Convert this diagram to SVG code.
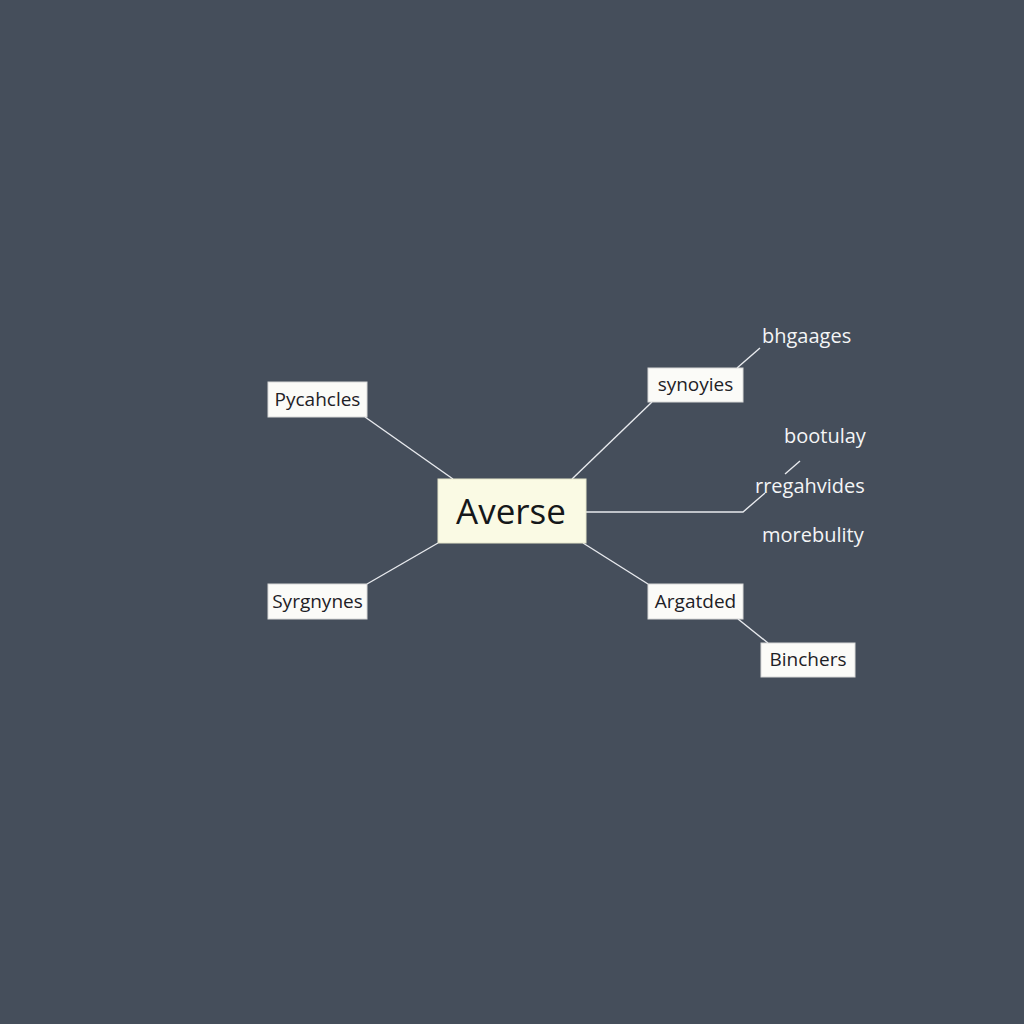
<svg xmlns="http://www.w3.org/2000/svg" width="1024" height="1024" viewBox="0 0 1024 1024">
<style>
.box{fill:#fbfbf8;stroke:#d8d8d8;stroke-width:1}
.lbl{font-family:"Open Sans","Noto Sans","Liberation Sans",sans-serif;font-size:19px;fill:#1e2126;text-anchor:middle}
.free{font-family:"Open Sans","Noto Sans","Liberation Sans",sans-serif;font-size:20px;fill:#f4f5f6}
.ln{stroke:#e8eaee;stroke-width:1.4;fill:none}
</style>
<rect width="1024" height="1024" fill="#454e5b"/>
<g id="connectors">
<line class="ln" x1="365" y1="417" x2="453" y2="479"/>
<line class="ln" x1="367" y1="584" x2="438" y2="543"/>
<line class="ln" x1="572" y1="479" x2="652" y2="402"/>
<line class="ln" x1="737" y1="368" x2="760" y2="348"/>
<polyline class="ln" points="586,512 743,512 765,493"/>
<line class="ln" x1="785" y1="474" x2="800" y2="461"/>
<line class="ln" x1="583" y1="543" x2="648" y2="584"/>
<line class="ln" x1="738" y1="619" x2="768" y2="643"/>
</g>
<g id="averse">
<rect x="438" y="479" width="148" height="64" fill="#fafae4" stroke="#e6e6cc"/>
<text x="511" y="524" font-family="'Open Sans','Noto Sans','Liberation Sans',sans-serif" font-size="35" fill="#15171a" text-anchor="middle">Averse</text>
</g>
<g id="pycahcles">
<rect class="box" x="268" y="382" width="99" height="35"/>
<text class="lbl" x="317.500" y="406">Pycahcles</text>
</g>
<g id="syrgnynes">
<rect class="box" x="268" y="584" width="99" height="35"/>
<text class="lbl" x="317.500" y="608">Syrgnynes</text>
</g>
<g id="synoyies">
<rect class="box" x="648" y="368" width="95" height="34"/>
<text class="lbl" x="695.500" y="391">synoyies</text>
</g>
<g id="argatded">
<rect class="box" x="648" y="584" width="95" height="35"/>
<text class="lbl" x="695.500" y="608">Argatded</text>
</g>
<g id="binchers">
<rect class="box" x="761" y="643" width="94" height="34"/>
<text class="lbl" x="808" y="666">Binchers</text>
</g>
<g id="bhgaages"><text class="free" x="762" y="343">bhgaages</text></g>
<g id="bootulay"><text class="free" x="784" y="443">bootulay</text></g>
<g id="rregahvides"><text class="free" x="755" y="493">rregahvides</text></g>
<g id="morebulity"><text class="free" x="762" y="542">morebulity</text></g>
</svg>
